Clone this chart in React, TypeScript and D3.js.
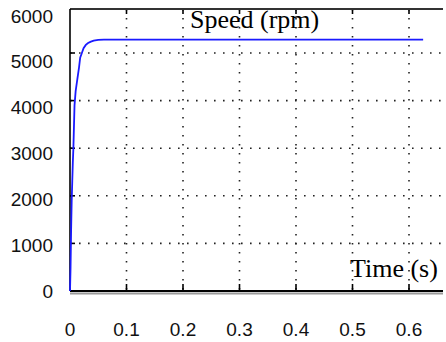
import * as d3 from 'd3'

// speed response
const timeS = [0, 0.001, 0.002, 0.003, 0.004, 0.005, 0.006, 0.008, 0.010, 0.013, 0.016, 0.018, 0.021, 0.024, 0.028, 0.032, 0.037, 0.042, 0.05, 0.06, 0.625]
const speedRpm = [0, 500, 1300, 1900, 2300, 2700, 3000, 3900, 4200, 4450, 4700, 4900, 5000, 5100, 5170, 5210, 5240, 5260, 5275, 5280, 5280]

const xTicks = [0, 0.1, 0.2, 0.3, 0.4, 0.5, 0.6]
const xTickLabels = ['0', '0.1', '0.2', '0.3', '0.4', '0.5', '0.6']
const yTicks = [0, 1000, 2000, 3000, 4000, 5000, 6000]
const yTickLabels = ['0', '1000', '2000', '3000', '4000', '5000', '6000']

const W = 446, H = 342
const left = 70, right = 443, top = 9, bottom = 291

export default function App() {
  const x = d3.scaleLinear().domain([0, 0.6]).range([left, 409])
  const y = d3.scaleLinear().domain([0, 5000]).range([bottom, 53])
  // the tick labels sit a little off the grid in the original
  const yLab = d3.scaleLinear().domain([0, 6000]).range([291, 16])

  const line = d3.line<number>()
    .x((d, i) => x(timeS[i]))
    .y(d => y(d))

  const dots = '1.6 7.4'
  const gridX = xTicks.filter(t => t > 0)
  const gridY = yTicks.filter(v => v > 0 && y(v) > top + 2)

  return (
    <svg width={W} height={H} style={{ position: 'absolute', left: 0, top: 0, background: '#fff' }}>
      <g>
        {gridX.map(t => (
          <line key={'gx' + t} x1={x(t)} x2={x(t)} y1={top} y2={bottom}
            stroke="#222" strokeWidth={1.6} strokeDasharray={dots} />
        ))}
        {gridY.map(v => (
          <line key={'gy' + v} x1={left} x2={right} y1={y(v)} y2={y(v)}
            stroke="#222" strokeWidth={1.6} strokeDasharray={dots} />
        ))}
      </g>
      {/* tick marks */}
      <g stroke="#000" strokeWidth={1.6}>
        {gridX.map(t => (
          <g key={'tx' + t}>
            <line x1={x(t)} x2={x(t)} y1={bottom} y2={bottom - 7} />
            <line x1={x(t)} x2={x(t)} y1={top} y2={top + 5} />
          </g>
        ))}
        {gridY.map(v => (
          <line key={'ty' + v} x1={left} x2={left + 5} y1={y(v)} y2={y(v)} />
        ))}
      </g>
      {/* frame */}
      <line x1={left} x2={right} y1={top} y2={top} stroke="#333" strokeWidth={2} />
      <line x1={left} x2={right} y1={bottom + 2.5} y2={bottom + 2.5} stroke="#999" strokeWidth={2} />
      <line x1={left} x2={right} y1={bottom} y2={bottom} stroke="#000" strokeWidth={2} />
      <line x1={left} x2={left} y1={top} y2={bottom} stroke="#000" strokeWidth={1.6} />

      <path d={line(speedRpm) || ''} fill="none" stroke="#1a1aff" strokeWidth={1.8} />

      <text x={190} y={28} fontFamily="Liberation Serif" fontSize={26} fill="#000">Speed (rpm)</text>
      <text x={350} y={277} fontFamily="Liberation Serif" fontSize={26} fill="#000">Time (s)</text>

      <g fontFamily="Liberation Sans" fontSize={19} fill="#111">
        {yTicks.map((v, i) => (
          <text key={'yl' + v} x={53} y={yLab(v)} textAnchor="end" dominantBaseline="central">{yTickLabels[i]}</text>
        ))}
        {xTicks.map((t, i) => (
          <text key={'xl' + t} x={x(t)} y={329} textAnchor="middle" dominantBaseline="central">{xTickLabels[i]}</text>
        ))}
      </g>
    </svg>
  )
}
